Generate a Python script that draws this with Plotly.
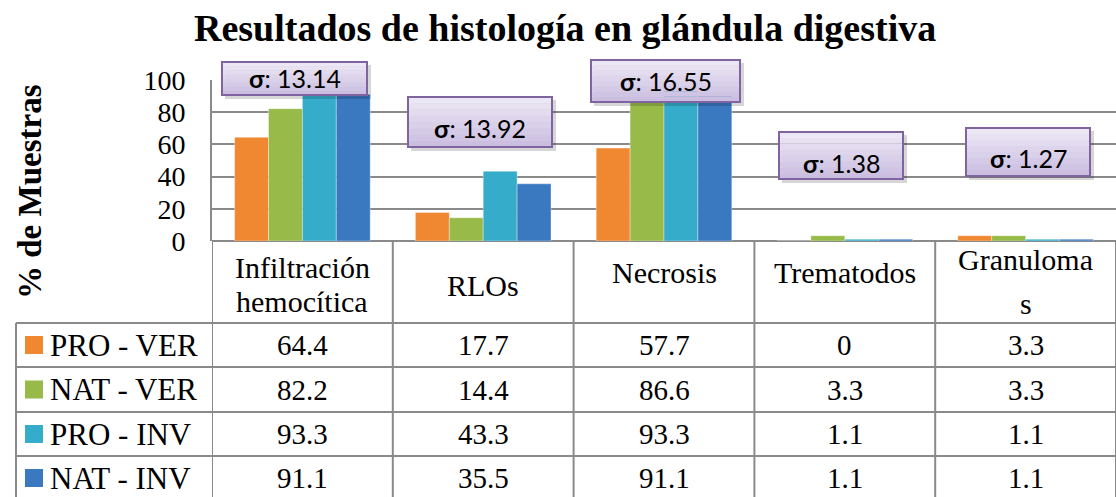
import numpy as np
import plotly.graph_objects as go

W, H = 1116, 497

categories = ["Infiltración hemocítica", "RLOs", "Necrosis", "Trematodos", "Granulomas"]
header_lines = [["Infiltración", "hemocítica"], ["RLOs"], ["Necrosis"], ["Trematodos"],
                ["Granuloma", "s"]]

series_names = ["PRO - VER", "NAT - VER", "PRO - INV", "NAT - INV"]
pro_ver = [64.4, 17.7, 57.7, 0, 3.3]
nat_ver = [82.2, 14.4, 86.6, 3.3, 3.3]
pro_inv = [93.3, 43.3, 93.3, 1.1, 1.1]
nat_inv = [91.1, 35.5, 91.1, 1.1, 1.1]
series_values = [pro_ver, nat_ver, pro_inv, nat_inv]

y_ticks = [0, 20, 40, 60, 80, 100]

colors = ["#ef8830", "#97ba48", "#34acca", "#3a78c0"]
grid = "#8a8a8a"
serif = "Liberation Serif, Times New Roman, serif"


def px_x(p):
    return p / W


def px_y(p):
    return 1 - p / H


def label(fig, text, x, y, xref="paper", size=29, xanchor="center", family=serif, **kw):
    fig.add_annotation(text=text, x=x, y=y, xref=xref, yref="paper",
                       xanchor=xanchor, yanchor="middle", showarrow=False,
                       font=dict(family=family, size=size, color="black"), **kw)


def mix(c1, c2, t):
    a = [int(c1[i:i + 2], 16) for i in (1, 3, 5)]
    b = [int(c2[i:i + 2], 16) for i in (1, 3, 5)]
    return "#" + "".join(f"{round(x + (y - x) * t):02x}" for x, y in zip(a, b))


# sample standard deviation of the four series for each category
sigmas = np.std(np.array(series_values), axis=0, ddof=1)

fig = go.Figure()
for name, vals, col in zip(series_names, series_values, colors):
    fig.add_trace(go.Bar(
        x=categories, y=vals, name=name,
        marker=dict(color=col, line=dict(color="rgba(255,255,255,0.35)", width=1)),
        showlegend=False,
    ))

y_top, y_bot = 80, 241
fig.update_layout(
    width=W, height=H,
    margin=dict(l=0, r=0, t=0, b=0, autoexpand=False),
    paper_bgcolor="white", plot_bgcolor="white",
    barmode="group", bargap=0.25, bargroupgap=0,
    xaxis=dict(domain=[px_x(212), 1], range=[-0.5, 4.5], showticklabels=False,
               showgrid=False, zeroline=False, showline=False, automargin=False,
               fixedrange=True),
    yaxis=dict(domain=[px_y(y_bot), px_y(y_top)], range=[0, 100], tickvals=y_ticks,
               showgrid=True, gridcolor=grid, gridwidth=2, zeroline=True,
               zerolinecolor=grid, zerolinewidth=2, showline=True, linecolor=grid,
               linewidth=2, ticks="", ticklabelstandoff=19, automargin=False,
               tickfont=dict(family=serif, size=28, color="black")),
    font=dict(family=serif, color="black"),
)

# title and axis title
label(fig, "<b>Resultados de histología en glándula digestiva</b>", px_x(565), px_y(28), size=38)
label(fig, "<b>% de Muestras</b>", px_x(30), px_y(192), size=33, textangle=-90)

# data table grid
shapes = []
line = dict(color=grid, width=2)
for k in range(6):
    shapes.append(dict(type="line", xref="x", yref="paper", x0=k - 0.5, x1=k - 0.5,
                       y0=px_y(y_bot), y1=0, line=line))
row_edges = [323, 367, 412, 456, 500]
for r in row_edges[:-1]:
    shapes.append(dict(type="line", xref="paper", yref="paper", x0=px_x(16), x1=1,
                       y0=px_y(r), y1=px_y(r), line=line))
shapes.append(dict(type="line", xref="paper", yref="paper", x0=px_x(16), x1=px_x(16),
                   y0=px_y(323), y1=0, line=line))

# header row (one annotation per text line)
header_y = [[267, 301], [285], [272], [272], [259, 303]]
for cat, lines, ys in zip(categories, header_lines, header_y):
    for txt, hy in zip(lines, ys):
        label(fig, txt, cat, px_y(hy), xref="x", size=30)

# value rows with legend keys
for i, (name, vals, col) in enumerate(zip(series_names, series_values, colors)):
    cy = (row_edges[i] + row_edges[i + 1]) / 2
    shapes.append(dict(type="rect", xref="paper", yref="paper",
                       x0=px_x(25), x1=px_x(43), y0=px_y(cy + 9), y1=px_y(cy - 9),
                       fillcolor=col, line=dict(width=0)))
    label(fig, name, px_x(48), px_y(cy), xanchor="left", size=31)
    for cat, v in zip(categories, vals):
        label(fig, f"{v:g}", cat, px_y(cy), xref="x", size=29)

# standard deviation callouts
boxes = [  # left, top, right, bottom in pixels
    (222, 62, 367, 95),
    (408, 97, 552, 147),
    (591, 60, 740, 102),
    (779, 132, 903, 179),
    (966, 128, 1090, 176),
]
text_dy = [0, 6, 0, 7, 6]
bands = 8
for (l, t, r, b), s, dy in zip(boxes, sigmas, text_dy):
    shapes.append(dict(type="rect", xref="paper", yref="paper", layer="above",
                       x0=px_x(l + 3), x1=px_x(r + 4), y0=px_y(b + 4), y1=px_y(t + 3),
                       fillcolor="rgba(0,0,0,0.16)", line=dict(width=0)))
    for j in range(bands):
        y0 = t + (b - t) * j / bands
        y1 = t + (b - t) * (j + 1) / bands
        shapes.append(dict(type="rect", xref="paper", yref="paper", layer="above",
                           x0=px_x(l), x1=px_x(r), y0=px_y(y1), y1=px_y(y0),
                           fillcolor=mix("#ece7f5", "#cbbee1", j / (bands - 1)),
                           line=dict(width=0)))
    shapes.append(dict(type="rect", xref="paper", yref="paper", layer="above",
                       x0=px_x(l), x1=px_x(r), y0=px_y(b), y1=px_y(t),
                       fillcolor="rgba(0,0,0,0)", line=dict(color="#8064a2", width=2)))
    label(fig, f"<b>σ</b>: {s:.2f}", px_x((l + r) / 2), px_y((t + b) / 2 + dy),
          size=25, family="Lato, Liberation Sans, sans-serif")

fig.update_layout(shapes=shapes)
fig.write_html("out.html")
